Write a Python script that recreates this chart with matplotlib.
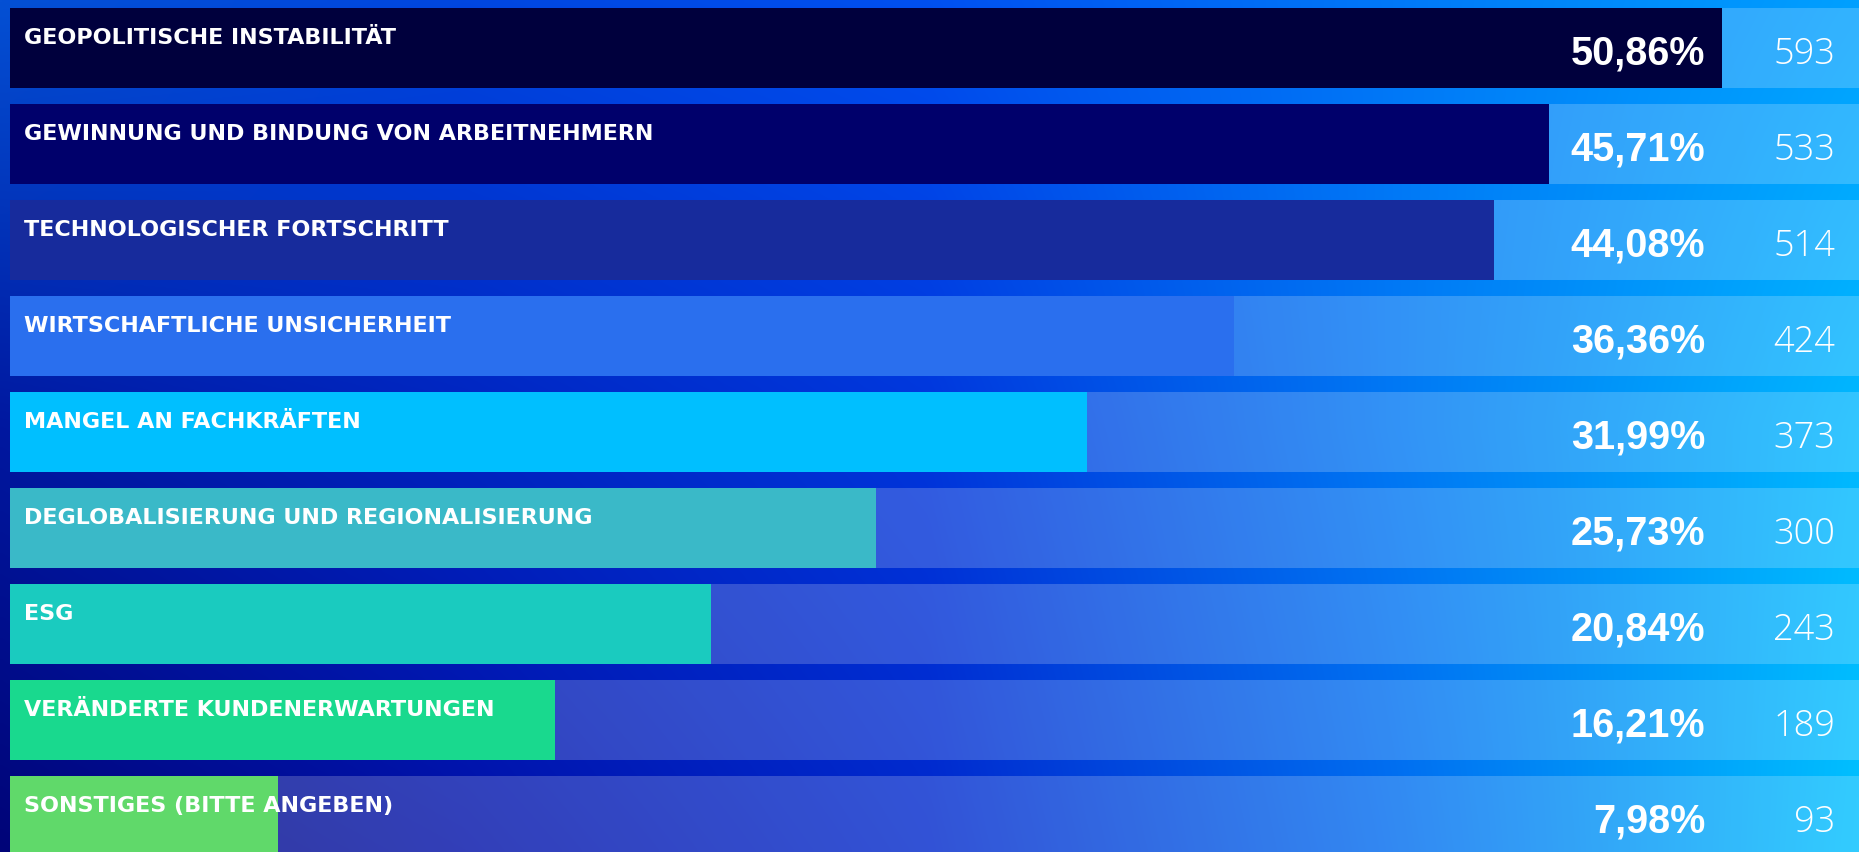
import numpy as np
import matplotlib
matplotlib.use("Agg")
import matplotlib.pyplot as plt
from matplotlib.colors import to_rgb

# data
labels = [
    "GEOPOLITISCHE INSTABILITÄT",
    "GEWINNUNG UND BINDUNG VON ARBEITNEHMERN",
    "TECHNOLOGISCHER FORTSCHRITT",
    "WIRTSCHAFTLICHE UNSICHERHEIT",
    "MANGEL AN FACHKRÄFTEN",
    "DEGLOBALISIERUNG UND REGIONALISIERUNG",
    "ESG",
    "VERÄNDERTE KUNDENERWARTUNGEN",
    "SONSTIGES (BITTE ANGEBEN)",
]
percents = [50.86, 45.71, 44.08, 36.36, 31.99, 25.73, 20.84, 16.21, 7.98]
counts = [593, 533, 514, 424, 373, 300, 243, 189, 93]
bar_colors = ["#00003d", "#00006b", "#172b9c", "#2a6fee", "#00bfff",
              "#3ab9c8", "#1acbbf", "#19d98e", "#60d96a"]

W, H = 1859, 852
fig = plt.figure(figsize=(W / 100, H / 100), dpi=100)
ax = fig.add_axes([0, 0, 1, 1])

px_per_pct = 33.67
x0 = 9.5
xmin, xmax = -x0 / px_per_pct, (W - x0) / px_per_pct
ymin, ymax = 8.375, -0.5
ax.set_xlim(xmin, xmax)
ax.set_ylim(ymin, ymax)
ax.axis("off")

# background gradient, 3 rows x 5 columns of colour stops
grid = [
    ["#0450d4", "#0046e0", "#0050f0", "#0078f8", "#00a0ff"],
    ["#0018a0", "#0024c0", "#0036dc", "#0078f4", "#00b8ff"],
    ["#000478", "#0010a8", "#0028cc", "#006cf0", "#00c0ff"],
]
g = np.array([[to_rgb(c) for c in row] for row in grid])
nx, ny = 400, 200
xs = np.linspace(0, 1, nx)
ys = np.linspace(0, 1, ny)
tmp = np.stack([[np.interp(xs, np.linspace(0, 1, 5), g[r, :, k]) for k in range(3)]
                for r in range(3)])  # (3, 3, nx)
img = np.zeros((ny, nx, 3))
for k in range(3):
    for i in range(nx):
        img[:, i, k] = np.interp(ys, np.linspace(0, 1, 3), tmp[:, k, i])
ax.imshow(img, extent=[xmin, xmax, ymin, ymax], aspect="auto", zorder=0,
          interpolation="bilinear")
ax.set_xlim(xmin, xmax)
ax.set_ylim(ymin, ymax)

ypos = np.arange(len(labels))
h = 0.828
ax.barh(ypos, xmax, height=h, left=0, color="white", alpha=0.2, zorder=1)
ax.barh(ypos, percents, height=h, color=bar_colors, zorder=2)

for i, (lab, p, c) in enumerate(zip(labels, percents, counts)):
    ax.text(0.42, i - 0.045, lab, color="white", fontsize=16,
            fontfamily="DejaVu Sans", fontweight="bold",
            ha="left", va="baseline", zorder=3)
    ax.text(50.36, i + 0.17, f"{p:.2f}%".replace(".", ","), color="white",
            fontsize=28.5, fontfamily="Liberation Sans", fontweight="bold",
            ha="right", va="baseline", zorder=3)
    ax.text(54.22, i + 0.17, str(c), color="white", fontsize=26,
            fontfamily="Open Sans", fontweight="light",
            ha="right", va="baseline", zorder=3)

fig.savefig("out.png", dpi=100)
